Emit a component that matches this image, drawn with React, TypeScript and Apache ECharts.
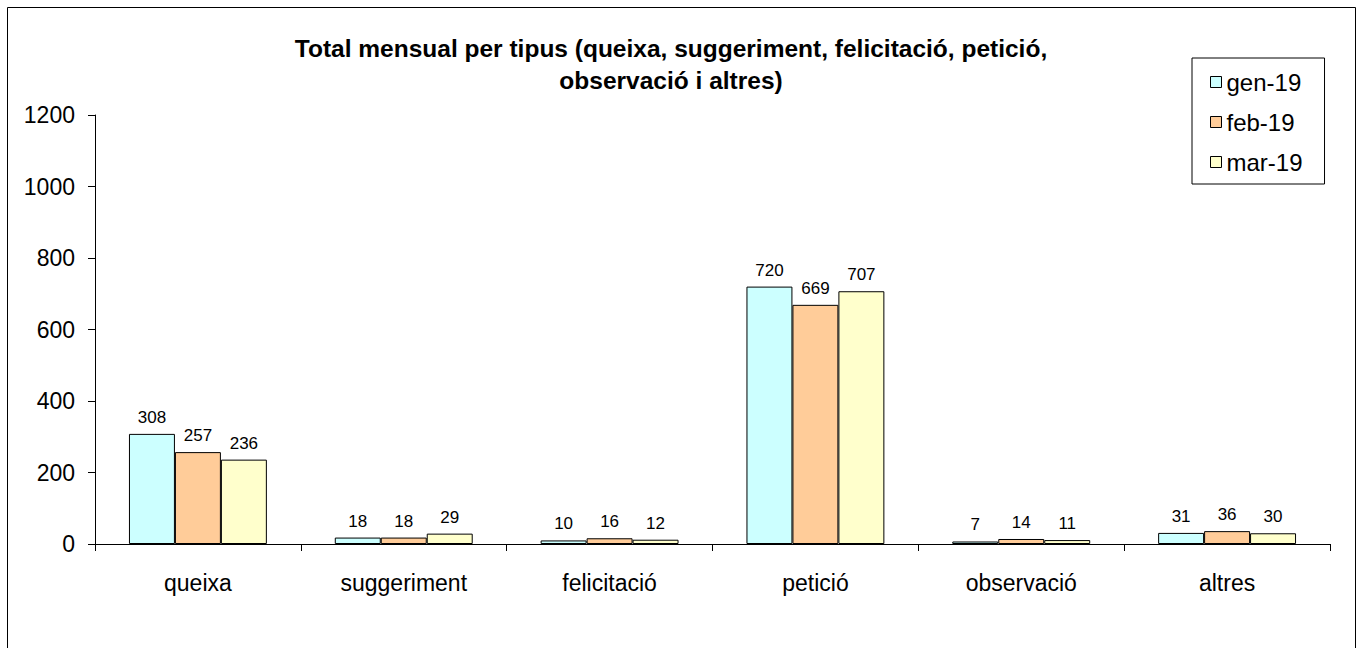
import React, { useEffect, useRef } from "react";
import * as echarts from "echarts";

const categories = ["queixa", "suggeriment", "felicitació", "petició", "observació", "altres"];
const seriesNames = ["gen-19", "feb-19", "mar-19"];
const gen19 = [308, 18, 10, 720, 7, 31];
const feb19 = [257, 18, 16, 669, 14, 36];
const mar19 = [236, 29, 12, 707, 11, 30];
const colors = ["#CCFFFF", "#FFCC99", "#FFFFCC"];
const yTicks = { min: 0, max: 1200, interval: 200 };
const titleText = "Total mensual per tipus (queixa, suggeriment, felicitació, petició,\nobservació i altres)";

export default function App() {
  const ref = useRef<HTMLDivElement>(null);
  useEffect(() => {
    document.body.style.margin = "0";
    const chart = echarts.init(ref.current!, null, { renderer: "svg" });
    const font = "'Liberation Sans', Arial, sans-serif";
    const values = [gen19, feb19, mar19];
    chart.setOption({
      animation: false,
      backgroundColor: "#ffffff",
      textStyle: { fontFamily: font },
      title: {
        text: titleText,
        left: 671,
        top: 32,
        textAlign: "center",
        padding: 0,
        textStyle: { fontSize: 24.5, fontWeight: "bold", color: "#000", lineHeight: 32, fontFamily: font },
      },
      legend: {
        orient: "vertical",
        left: 1192,
        top: 58,
        padding: [12, 22, 10, 18],
        itemGap: 16,
        itemWidth: 11,
        itemHeight: 11,
        icon: "rect",
        borderColor: "#000",
        borderWidth: 1,
        textStyle: { fontSize: 24, lineHeight: 24, color: "#000", fontFamily: font, padding: [0, 0, 0, 0] },
        data: seriesNames.map((n) => ({ name: n, itemStyle: { borderColor: "#000", borderWidth: 1 } })),
      },
      grid: { left: 95, right: 33, top: 115, bottom: 104 },
      xAxis: {
        type: "category",
        data: categories,
        axisLine: { lineStyle: { color: "#000", width: 1 } },
        axisTick: { show: true, length: 7, lineStyle: { color: "#000" } },
        axisLabel: { fontSize: 23, color: "#000", margin: 27, fontFamily: font },
      },
      yAxis: {
        type: "value",
        min: yTicks.min,
        max: yTicks.max,
        interval: yTicks.interval,
        splitLine: { show: false },
        axisLine: { show: true, lineStyle: { color: "#000", width: 1 } },
        axisTick: { show: true, length: 7, lineStyle: { color: "#000" } },
        axisLabel: {
          fontSize: 23,
          color: "#000",
          margin: 20,
          fontFamily: font,
          formatter: (v: number) => String(v),
        },
      },
      series: seriesNames.map((name, i) => ({
        name,
        type: "bar",
        data: values[i],
        barGap: "0%",
        barCategoryGap: "33%",
        itemStyle: { color: colors[i], borderColor: "#000", borderWidth: 1 },
        label: { show: true, position: "top", distance: 8, fontSize: 17, color: "#000", fontFamily: font },
      })),
      graphic: [
        {
          type: "rect",
          shape: { x: 7.5, y: 7.5, width: 1348, height: 645 },
          style: { fill: "none", stroke: "#000", lineWidth: 1 },
          silent: true,
        },
      ],
    });
    return () => chart.dispose();
  }, []);
  return <div ref={ref} style={{ width: 1363, height: 648 }} />;
}
